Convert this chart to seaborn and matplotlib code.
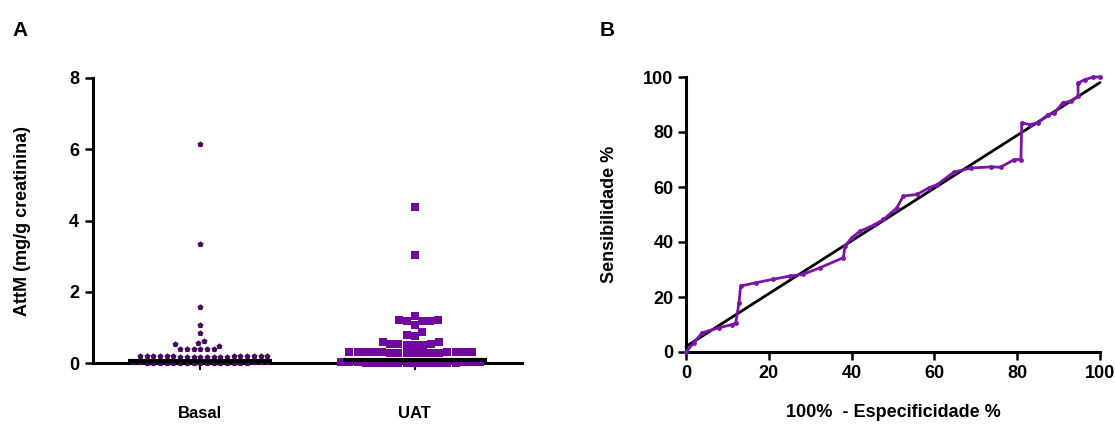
import numpy as np
import pandas as pd
import matplotlib
matplotlib.use("Agg")
import matplotlib.pyplot as plt
import seaborn as sns

# ---------------- data ----------------
groups = ["Basal", "UAT"]
basal_values = [6.15, 3.35, 1.58, 1.06, 0.83, 0.63, 0.55, 0.52, 0.48,
                0.40, 0.39, 0.39, 0.38, 0.38, 0.38,
                0.20, 0.20, 0.20, 0.20, 0.20, 0.19, 0.19, 0.19, 0.19, 0.19,
                0.19, 0.19, 0.18, 0.18, 0.18, 0.18, 0.18, 0.18, 0.18, 0.18,
                0.02, 0.02, 0.02, 0.02, 0.02, 0.01, 0.01, 0.01, 0.01, 0.01, 0.01,
                0.00, 0.00, 0.00, 0.00, 0.00, 0.00, 0.00, 0.00, 0.00, 0.00]
uat_values = [4.38, 3.02, 1.32, 1.21, 1.20, 1.19, 1.18, 1.17, 1.08, 0.86, 0.79, 0.77,
              0.60, 0.58, 0.53, 0.52, 0.52, 0.51, 0.50, 0.50,
              0.32, 0.32, 0.31, 0.31, 0.31, 0.30, 0.30, 0.30, 0.30, 0.29, 0.29, 0.29,
              0.29, 0.28, 0.28, 0.28,
              0.03, 0.03, 0.02, 0.02, 0.02, 0.02, 0.01, 0.01, 0.01, 0.01, 0.01,
              0.00, 0.00, 0.00, 0.00, 0.00, 0.00, 0.00]
group_medians = [0.06, 0.08]
y_ticks_a = [0, 2, 4, 6, 8]

roc_fpr = [0.0, 1.9, 3.9, 7.9, 11.2, 12.0, 12.8, 13.2, 16.9, 20.9, 25.0, 28.2, 32.3, 38.0,
           38.4, 40.0, 42.0, 45.3, 47.7, 50.9, 52.5, 55.8, 58.7, 60.7, 64.7, 68.8, 73.6,
           76.0, 79.3, 80.9, 81.1, 83.0, 85.0, 87.4, 89.0, 91.0, 93.0, 94.7, 94.7, 96.3,
           98.4, 100.0]
roc_tpr = [0.0, 3.4, 7.0, 8.8, 10.0, 10.5, 17.9, 24.0, 25.2, 26.4, 27.6, 28.2, 30.6, 34.3,
           38.5, 41.5, 43.9, 46.1, 48.2, 52.4, 56.7, 57.3, 59.7, 60.9, 65.4, 66.9, 67.3,
           67.2, 70.0, 70.0, 83.3, 82.7, 83.3, 86.3, 86.9, 90.6, 91.2, 93.0, 97.8, 99.0,
           100.0, 100.0]
ref_x = [0, 100]
ref_y = [2, 98]
ticks_b = [0, 20, 40, 60, 80, 100]

basal_color = "#470a5a"
uat_color = "#7306a0"
roc_color = "#7d14a8"

# ---------------- style ----------------
sns.set_style("ticks")
plt.rcParams["font.family"] = ["Liberation Sans", "DejaVu Sans"]
plt.rcParams["font.weight"] = "bold"
plt.rcParams["axes.labelweight"] = "bold"
plt.rcParams["text.color"] = "black"
plt.rcParams["axes.labelcolor"] = "black"
plt.rcParams["xtick.color"] = "black"
plt.rcParams["ytick.color"] = "black"
plt.rcParams["axes.edgecolor"] = "black"

fig = plt.figure(figsize=(11.15, 4.3), dpi=100)
axA = fig.add_axes([93 / 1115, 1 - 363 / 430, (522 - 93) / 1115, (363 - 78) / 430])
axB = fig.add_axes([686 / 1115, 1 - 352 / 430, (1100 - 686) / 1115, (352 - 77) / 430])

# ---------------- panel A ----------------
dfb = pd.DataFrame({"grupo": "Basal", "valor": basal_values})
dfu = pd.DataFrame({"grupo": "UAT", "valor": uat_values})
sns.swarmplot(data=dfb, x="grupo", y="valor", order=groups, color=basal_color,
              marker="p", size=4.6, linewidth=0, ax=axA)
sns.swarmplot(data=dfu, x="grupo", y="valor", order=groups, color=uat_color,
              marker="s", size=5.6, linewidth=0, ax=axA)
for i, m in enumerate(group_medians):
    axA.hlines(m, i - 0.335, i + 0.335, color="black", lw=3.0, zorder=5)

axA.set_xlim(-0.5, 1.5)
axA.set_ylim(0, 8)
axA.set_yticks(y_ticks_a)
axA.set_xlabel("")
axA.set_ylabel("AttM (mg/g creatinina)", fontsize=13, fontweight="bold", labelpad=27)
axA.set_xticks([0, 1])
axA.set_xticklabels(groups)
axA.tick_params(axis="y", length=6, width=1.8, pad=4, labelsize=13)
axA.tick_params(axis="x", length=5, width=1.5, pad=26, labelsize=12)
for lab in axA.get_xticklabels() + axA.get_yticklabels():
    lab.set_fontweight("bold")
for s in ["top", "right"]:
    axA.spines[s].set_visible(False)
for s in ["left", "bottom"]:
    axA.spines[s].set_linewidth(2.2)
for c in axA.collections:
    c.set_clip_on(False)

# ---------------- panel B ----------------
sns.lineplot(x=ref_x, y=ref_y, color="black", lw=2.0, ax=axB, zorder=3)
sns.lineplot(x=roc_fpr, y=roc_tpr, color=roc_color, lw=2.0, marker="o", markersize=3.5,
             markeredgewidth=0, sort=False, estimator=None, ax=axB, zorder=4)
axB.set_xlim(0, 100)
axB.set_ylim(0, 100)
axB.set_xticks(ticks_b)
axB.set_yticks(ticks_b)
axB.set_xlabel("100%  - Especificidade %", fontsize=13, fontweight="bold", labelpad=16)
axB.set_ylabel("Sensibilidade %", fontsize=13, fontweight="bold", labelpad=18)
axB.tick_params(axis="both", length=6, width=1.8, pad=3, labelsize=13)
for lab in axB.get_xticklabels() + axB.get_yticklabels():
    lab.set_fontweight("bold")
for s in ["top", "right"]:
    axB.spines[s].set_visible(False)
for s in ["left", "bottom"]:
    axB.spines[s].set_linewidth(2.2)
for ln in axB.lines:
    ln.set_clip_on(False)

fig.text(12 / 1115, 1 - 30 / 430, "A", fontsize=15, fontweight="bold", va="center")
fig.text(600 / 1115, 1 - 30 / 430, "B", fontsize=15, fontweight="bold", va="center")

fig.savefig("out.png", dpi=100)
